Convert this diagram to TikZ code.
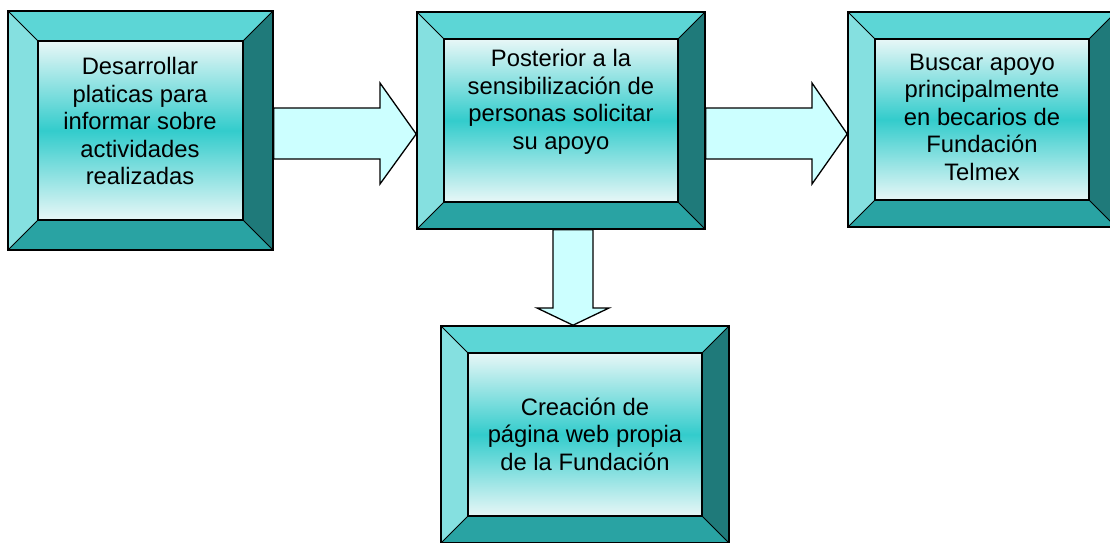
\documentclass[tikz,border=0pt]{standalone}
\usepackage{fontspec}
\setmainfont{Liberation Sans}
\definecolor{bvtop}{HTML}{5CD6D6}
\definecolor{bvleft}{HTML}{85E0E0}
\definecolor{bvright}{HTML}{1F7A7A}
\definecolor{bvbottom}{HTML}{29A3A3}
\definecolor{inlite}{HTML}{E8F7F7}
\definecolor{midc}{HTML}{33CCCC}
\definecolor{arrowc}{HTML}{CCFFFF}
\pgfdeclareverticalshading{innershade}{100bp}{color(0bp)=(inlite); color(25bp)=(inlite); color(50bp)=(midc); color(75bp)=(inlite); color(100bp)=(inlite)}
\tikzset{
  boxoutline/.style={draw=black, line width=1.6pt, inner sep=0pt, rectangle},
  innerface/.style={shading=innershade, draw=black, line width=1.2pt},
  bevelline/.style={draw=black, line width=1pt},
  blockarrow/.style={fill=arrowc, draw=black, line width=1.3pt, line join=miter},
  boxtext/.style={align=center, inner sep=0pt, text=black, font=\fontsize{23.8}{27.5}\selectfont}
}
\newcommand\bevelbox[6]{%
  \fill[bvtop] (#2,#3) -- (#4,#3) -- ({#4-#6},{#3+#6}) -- ({#2+#6},{#3+#6}) -- cycle;
  \fill[bvbottom] (#2,#5) -- (#4,#5) -- ({#4-#6},{#5-#6}) -- ({#2+#6},{#5-#6}) -- cycle;
  \fill[bvleft] (#2,#3) -- ({#2+#6},{#3+#6}) -- ({#2+#6},{#5-#6}) -- (#2,#5) -- cycle;
  \fill[bvright] (#4,#3) -- ({#4-#6},{#3+#6}) -- ({#4-#6},{#5-#6}) -- (#4,#5) -- cycle;
  \draw[bevelline] (#2,#3) -- ({#2+#6},{#3+#6}) (#4,#3) -- ({#4-#6},{#3+#6})
     (#2,#5) -- ({#2+#6},{#5-#6}) (#4,#5) -- ({#4-#6},{#5-#6});
  \shade[innerface] ({#2+#6},{#3+#6}) rectangle ({#4-#6},{#5-#6});
  \node[boxoutline, minimum width={(#4-#2)*1pt}, minimum height={(#5-#3)*1pt}] (#1) at ({(#2+#4)/2},{(#3+#5)/2}) {};
}
\begin{document}
\begin{tikzpicture}[x=1pt,y=-1pt]
\useasboundingbox (0,0) rectangle (1110,542);
\clip (0,0) rectangle (1110,542);
\bevelbox{b1}{8}{11}{273}{250}{30}
\bevelbox{b2}{417}{12}{705}{229}{27}
\bevelbox{b3}{848}{12}{1116}{227}{27}
\bevelbox{b4}{441}{326}{729}{543}{27}
\node[boxtext] (t1) at (140,121) {Desarrollar\\platicas para\\informar sobre\\actividades\\realizadas};
\node[boxtext] (t2) at (561,102) {Posterior a la\\sensibilización de\\personas solicitar\\su apoyo};
\node[boxtext] (t3) at (982,117) {Buscar apoyo\\principalmente\\en becarios de\\Fundación\\Telmex};
\node[boxtext] (t4) at (585,434) {Creación de\\página web propia\\de la Fundación};
\draw[blockarrow] (b1.east |- 0,108) -- (380,108) -- (380,83) -- (b2.west |- 0,134) -- (380,184) -- (380,159) -- (b1.east |- 0,159) -- cycle;
\draw[blockarrow] (b2.east |- 0,108) -- (812,108) -- (812,83) -- (b3.west |- 0,134) -- (812,184) -- (812,159) -- (b2.east |- 0,159) -- cycle;
\draw[blockarrow] (b2.south -| 553,0) -- (553,308) -- (537,308) -- (b4.north -| 573,0) -- (609,308) -- (593,308) -- (b2.south -| 593,0) -- cycle;
\end{tikzpicture}
\end{document}
